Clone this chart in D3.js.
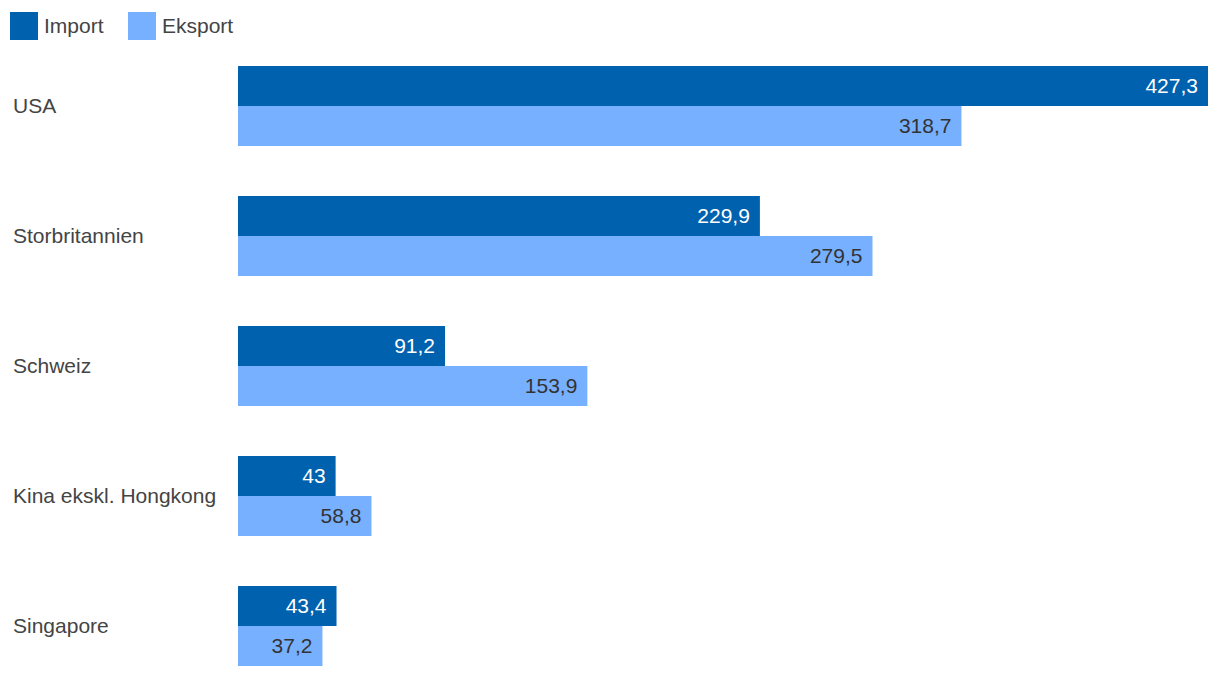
<!DOCTYPE html>
<html>
<head>
<meta charset="utf-8">
<script src="https://cdn.jsdelivr.net/npm/d3@7"></script>
<style>
  body { margin: 0; background: #fff; }
  text { font-family: "Liberation Sans", Arial, sans-serif; }
</style>
</head>
<body>
<div id="chart"></div>
<script>
// data
var countries = ["USA", "Storbritannien", "Schweiz", "Kina ekskl. Hongkong", "Singapore"];
var importValues = [427.3, 229.9, 91.2, 43, 43.4];
var eksportValues = [318.7, 279.5, 153.9, 58.8, 37.2];
var seriesNames = ["Import", "Eksport"];
var colors = ["#0061ae", "#77b0ff"];
var labelColors = ["#ffffff", "#333333"];

var W = 1220, H = 676;
var svg = d3.select("#chart").append("svg")
  .attr("width", W).attr("height", H);

var x = d3.scaleLinear().domain([0, 427.3]).range([238, 1208]);

// step 130, bars 80 high (two of 40)
var y = d3.scaleBand()
  .domain(countries)
  .range([66, 666])
  .paddingInner(50 / 130)
  .paddingOuter(0);

var ySub = d3.scaleBand().domain([0, 1]).range([0, y.bandwidth()]);

var fmt = function(v) { return String(v).replace(".", ","); };

var rows = countries.map(function(c, i) {
  return { name: c, vals: [importValues[i], eksportValues[i]] };
});

var groups = svg.selectAll("g.row")
  .data(rows)
  .enter().append("g")
  .attr("class", "row")
  .attr("transform", function(d) { return "translate(0," + y(d.name) + ")"; });

// category labels
groups.append("text")
  .attr("x", 13)
  .attr("y", y.bandwidth() / 2)
  .attr("dy", "0.35em")
  .attr("fill", "#444")
  .style("font-size", "21px")
  .text(function(d) { return d.name; });

// bars
groups.selectAll("rect")
  .data(function(d) { return d.vals; })
  .enter().append("rect")
  .attr("x", x(0))
  .attr("y", function(d, i) { return ySub(i); })
  .attr("width", function(d) { return x(d) - x(0); })
  .attr("height", ySub.bandwidth())
  .attr("fill", function(d, i) { return colors[i]; });

// value labels
groups.selectAll("text.val")
  .data(function(d) { return d.vals; })
  .enter().append("text")
  .attr("class", "val")
  .attr("x", function(d) { return x(d) - 10; })
  .attr("y", function(d, i) { return ySub(i) + ySub.bandwidth() / 2; })
  .attr("dy", "0.35em")
  .attr("text-anchor", "end")
  .attr("fill", function(d, i) { return labelColors[i]; })
  .style("font-size", "21px")
  .text(fmt);

// legend
var legendX = [10, 128];
var legend = svg.selectAll("g.legend")
  .data(seriesNames)
  .enter().append("g")
  .attr("class", "legend")
  .attr("transform", function(d, i) { return "translate(" + legendX[i] + ",12)"; });
legend.append("rect")
  .attr("width", 28).attr("height", 28)
  .attr("fill", function(d, i) { return colors[i]; });
legend.append("text")
  .attr("x", 34).attr("y", 14)
  .attr("dy", "0.35em")
  .attr("fill", "#444")
  .style("font-size", "21px")
  .text(function(d) { return d; });
</script>
</body>
</html>
